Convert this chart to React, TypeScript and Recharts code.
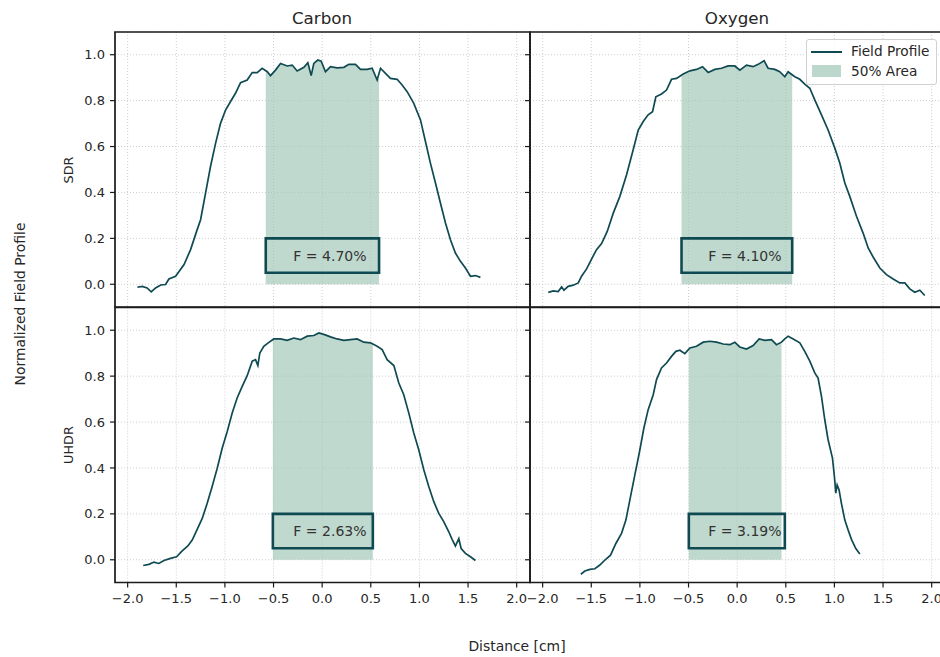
import React from 'react';
import {
  ComposedChart,
  Line,
  Area,
  XAxis,
  YAxis,
  CartesianGrid,
  ReferenceArea,
  ReferenceDot,
} from 'recharts';

// ---------- axes ----------
const xTicks = [-2, -1.5, -1, -0.5, 0, 0.5, 1, 1.5, 2];
const yTicks = [0, 0.2, 0.4, 0.6, 0.8, 1.0];
const xDomain: [number, number] = [-2.13, 2.137];
const yDomain: [number, number] = [-0.099, 1.099];

const columnTitles = ['Carbon', 'Oxygen'];
const rowTitles = ['SDR', 'UHDR'];
const fLabels = ['F = 4.70%', 'F = 4.10%', 'F = 2.63%', 'F = 3.19%'];
const boxRange = [0.05, 0.2];
const fTextPos = [0.08, 0.125];

// ---------- Carbon / SDR ----------
const carbonSdrX = [
  -1.9, -1.85, -1.8, -1.757, -1.713, -1.66, -1.61, -1.576, -1.507, -1.42,
  -1.353, -1.285, -1.25, -1.199, -1.148, -1.096, -1.045, -0.993, -0.942, -0.891,
  -0.839, -0.771, -0.719, -0.668, -0.617, -0.565, -0.531, -0.48, -0.428, -0.36,
  -0.308, -0.257, -0.188, -0.147, -0.113, -0.086, -0.045, -0.01, 0.034, 0.086,
  0.154, 0.223, 0.274, 0.343, 0.394, 0.462, 0.514, 0.565, 0.6, 0.651,
  0.702, 0.771, 0.822, 0.874, 0.942, 1.011, 1.062, 1.113, 1.165, 1.216,
  1.268, 1.319, 1.37, 1.422, 1.473, 1.525, 1.576, 1.627,
];
const carbonSdrY = [
  -0.013, -0.009, -0.016, -0.033, -0.016, -0.003, -0.001, 0.023, 0.035, 0.086,
  0.151, 0.238, 0.281, 0.397, 0.513, 0.614, 0.701, 0.759, 0.796, 0.832,
  0.878, 0.89, 0.922, 0.922, 0.941, 0.926, 0.909, 0.933, 0.962, 0.951,
  0.955, 0.929, 0.945, 0.965, 0.909, 0.962, 0.977, 0.972, 0.926, 0.948,
  0.943, 0.945, 0.958, 0.958, 0.936, 0.936, 0.941, 0.89, 0.941, 0.919,
  0.897, 0.893, 0.868, 0.839, 0.788, 0.716, 0.622, 0.528, 0.441, 0.354,
  0.267, 0.194, 0.136, 0.1, 0.071, 0.035, 0.038, 0.03,
];
const carbonSdrBand = [-0.58, 0.585];
const carbonSdrEdge = [0.92, 0.9];

// ---------- Oxygen / SDR ----------
const oxygenSdrX = [
  -1.942, -1.891, -1.84, -1.805, -1.781, -1.737, -1.685, -1.634, -1.6, -1.548,
  -1.497, -1.446, -1.394, -1.336, -1.274, -1.206, -1.137, -1.069, -1.017, -0.966,
  -0.915, -0.87, -0.836, -0.778, -0.726, -0.675, -0.623, -0.555, -0.486, -0.418,
  -0.356, -0.298, -0.23, -0.161, -0.093, -0.024, 0.028, 0.096, 0.164, 0.216,
  0.277, 0.318, 0.387, 0.438, 0.49, 0.524, 0.593, 0.644, 0.695, 0.747,
  0.798, 0.867, 0.935, 1.004, 1.055, 1.107, 1.158, 1.227, 1.295, 1.347,
  1.398, 1.467, 1.535, 1.604, 1.672, 1.724, 1.775, 1.826, 1.878, 1.929,
];
const oxygenSdrY = [
  -0.035, -0.029, -0.032, -0.012, -0.026, -0.009, -0.004, 0.006, 0.035, 0.067,
  0.11, 0.151, 0.177, 0.23, 0.31, 0.383, 0.477, 0.586, 0.672, 0.709,
  0.738, 0.752, 0.817, 0.829, 0.846, 0.893, 0.897, 0.916, 0.93, 0.936,
  0.948, 0.923, 0.936, 0.941, 0.951, 0.951, 0.933, 0.955, 0.948, 0.958,
  0.974, 0.941, 0.936, 0.926, 0.904, 0.926, 0.904, 0.893, 0.872, 0.854,
  0.803, 0.738, 0.672, 0.593, 0.528, 0.441, 0.383, 0.296, 0.223, 0.158,
  0.119, 0.071, 0.042, 0.023, 0.006, 0.006, -0.02, -0.035, -0.026, -0.049,
];
const oxygenSdrBand = [-0.572, 0.566];
const oxygenSdrEdge = [0.913, 0.91];

// ---------- Carbon / UHDR ----------
const carbonUhdrX = [
  -1.84, -1.781, -1.73, -1.679, -1.627, -1.559, -1.497, -1.439, -1.381, -1.336,
  -1.285, -1.233, -1.182, -1.131, -1.079, -1.028, -0.976, -0.925, -0.874, -0.822,
  -0.771, -0.719, -0.685, -0.661, -0.641, -0.6, -0.555, -0.497, -0.428, -0.36,
  -0.291, -0.223, -0.154, -0.086, -0.034, 0.024, 0.086, 0.154, 0.223, 0.291,
  0.36, 0.428, 0.497, 0.565, 0.617, 0.668, 0.737, 0.788, 0.839, 0.891,
  0.942, 0.993, 1.045, 1.096, 1.148, 1.199, 1.25, 1.302, 1.336, 1.37,
  1.405, 1.429, 1.473, 1.525, 1.576,
];
const carbonUhdrY = [
  -0.025, -0.02, -0.01, -0.016, -0.003, 0.006, 0.013, 0.039, 0.06, 0.086,
  0.132, 0.18, 0.246, 0.319, 0.399, 0.486, 0.559, 0.639, 0.705, 0.755,
  0.802, 0.865, 0.872, 0.846, 0.901, 0.93, 0.945, 0.962, 0.962, 0.956,
  0.966, 0.959, 0.974, 0.977, 0.988, 0.981, 0.971, 0.962, 0.956, 0.959,
  0.962, 0.948, 0.945, 0.93, 0.916, 0.872, 0.846, 0.77, 0.719, 0.639,
  0.552, 0.479, 0.392, 0.319, 0.253, 0.202, 0.166, 0.122, 0.089, 0.06,
  0.092, 0.049, 0.028, 0.013, -0.003,
];
const carbonUhdrBand = [-0.507, 0.521];
const carbonUhdrEdge = [0.96, 0.94];

// ---------- Oxygen / UHDR ----------
const oxygenUhdrX = [
  -1.607, -1.566, -1.514, -1.463, -1.412, -1.36, -1.302, -1.247, -1.189, -1.144,
  -1.103, -1.052, -1.007, -0.959, -0.915, -0.863, -0.829, -0.778, -0.726, -0.675,
  -0.63, -0.589, -0.538, -0.486, -0.418, -0.349, -0.281, -0.212, -0.144, -0.075,
  -0.024, 0.027, 0.096, 0.164, 0.226, 0.284, 0.353, 0.404, 0.456, 0.49,
  0.524, 0.576, 0.644, 0.695, 0.747, 0.798, 0.832, 0.867, 0.901, 0.935,
  0.98, 1.0, 1.014, 1.028, 1.048, 1.072, 1.107, 1.141, 1.175, 1.22,
  1.261,
];
const oxygenUhdrY = [
  -0.063, -0.049, -0.042, -0.039, -0.023, -0.001, 0.02, 0.071, 0.115, 0.173,
  0.261, 0.37, 0.464, 0.574, 0.654, 0.719, 0.785, 0.836, 0.857, 0.886,
  0.908, 0.913, 0.898, 0.923, 0.93, 0.948, 0.952, 0.948, 0.94, 0.937,
  0.948, 0.927, 0.918, 0.933, 0.962, 0.956, 0.959, 0.937, 0.948, 0.962,
  0.974, 0.962, 0.945, 0.908, 0.865, 0.814, 0.792, 0.712, 0.61, 0.523,
  0.443, 0.362, 0.29, 0.326, 0.304, 0.246, 0.173, 0.13, 0.089, 0.049,
  0.025,
];
const oxygenUhdrBand = [-0.497, 0.49];
const oxygenUhdrEdge = [0.92, 0.962];

// ---------- styling ----------
const LINE = '#0f4a52';
const FILL = '#9cc4b4';
const INK = '#262626';
const SPINE = '#1a1a1a';
const FONT = "'DejaVu Sans', sans-serif";
const W = 960;
const H = 657;

type Row = { x: number; y: number | null; f: number | null };

function buildRows(xs: number[], ys: number[], band: number[], edge: number[]): Row[] {
  const rows: Row[] = xs.map((x, i) => ({
    x,
    y: ys[i],
    f: x > band[0] && x < band[1] ? ys[i] : null,
  }));
  rows.push({ x: band[0], y: null, f: edge[0] });
  rows.push({ x: band[1], y: null, f: edge[1] });
  rows.sort((a, b) => a.x - b.x);
  return rows;
}

const fmt = (v: number) => (v < 0 ? '\u2212' : '') + Math.abs(v).toFixed(1);

type PanelProps = {
  rows: Row[];
  band: number[];
  label: string;
  plotLeft: number;
  plotRight: number;
  plotTop: number;
  plotBottom: number;
  yLabels: boolean;
  xLabels: boolean;
};

function Panel(p: PanelProps) {
  const yW = p.yLabels ? 40 : 10;
  const xH = p.xLabels ? 30 : 0;
  const margin = {
    top: p.plotTop,
    left: p.plotLeft - yW,
    right: W - p.plotRight,
    bottom: H - p.plotBottom - xH,
  };
  return (
    <div style={{ position: 'absolute', left: 0, top: 0 }}>
      <ComposedChart width={W} height={H} data={p.rows} margin={margin}>
        <CartesianGrid stroke="#c8c8c8" strokeDasharray="1 2" strokeWidth={0.9} />
        <XAxis
          dataKey="x"
          type="number"
          domain={xDomain}
          ticks={xTicks}
          allowDataOverflow
          interval={0}
          hide={!p.xLabels}
          height={xH}
          axisLine={false}
          tickLine={{ stroke: SPINE, strokeWidth: 1.2 }}
          tickSize={5}
          tickMargin={6}
          tickFormatter={fmt}
          tick={{ fill: INK, fontSize: 13, fontFamily: FONT }}
        />
        <YAxis
          type="number"
          domain={yDomain}
          ticks={yTicks}
          allowDataOverflow
          interval={0}
          width={yW}
          axisLine={false}
          tickLine={{ stroke: SPINE, strokeWidth: 1.2 }}
          tickSize={5}
          tickMargin={5}
          tickFormatter={(v: number) => (p.yLabels ? v.toFixed(1) : '')}
          tick={{ fill: INK, fontSize: 13, fontFamily: FONT }}
        />
        <Area
          dataKey="f"
          type="linear"
          stroke="none"
          fill={FILL}
          fillOpacity={0.65}
          baseValue={0}
          connectNulls={false}
          dot={false}
          activeDot={false}
          isAnimationActive={false}
        />
        <Line
          dataKey="y"
          type="linear"
          stroke={LINE}
          strokeWidth={1.7}
          dot={false}
          activeDot={false}
          connectNulls
          isAnimationActive={false}
        />
        <ReferenceArea
          x1={p.band[0]}
          x2={p.band[1]}
          y1={boxRange[0]}
          y2={boxRange[1]}
          fill="none"
          stroke={LINE}
          strokeWidth={2.6}
          ifOverflow="visible"
        />
        <ReferenceDot
          x={fTextPos[0]}
          y={fTextPos[1]}
          r={0}
          fill="none"
          stroke="none"
          ifOverflow="visible"
          label={{
            value: p.label,
            position: 'center',
            fill: '#333333',
            fontSize: 14,
            fontFamily: FONT,
          }}
        />
        <ReferenceArea
          x1={xDomain[0]}
          x2={xDomain[1]}
          y1={yDomain[0]}
          y2={yDomain[1]}
          fill="none"
          stroke={SPINE}
          strokeWidth={1.7}
          ifOverflow="visible"
        />
      </ComposedChart>
    </div>
  );
}

const rowsCS = buildRows(carbonSdrX, carbonSdrY, carbonSdrBand, carbonSdrEdge);
const rowsOS = buildRows(oxygenSdrX, oxygenSdrY, oxygenSdrBand, oxygenSdrEdge);
const rowsCU = buildRows(carbonUhdrX, carbonUhdrY, carbonUhdrBand, carbonUhdrEdge);
const rowsOU = buildRows(oxygenUhdrX, oxygenUhdrY, oxygenUhdrBand, oxygenUhdrEdge);

export default function App() {
  return (
    <div
      style={{
        position: 'absolute',
        left: 0,
        top: 0,
        width: 940,
        height: 657,
        overflow: 'hidden',
        background: '#ffffff',
        fontFamily: FONT,
      }}
    >
      <Panel rows={rowsCS} band={carbonSdrBand} label={fLabels[0]}
        plotLeft={115} plotRight={530} plotTop={32} plotBottom={307} yLabels xLabels={false} />
      <Panel rows={rowsOS} band={oxygenSdrBand} label={fLabels[1]}
        plotLeft={530} plotRight={945} plotTop={32} plotBottom={307} yLabels={false} xLabels={false} />
      <Panel rows={rowsCU} band={carbonUhdrBand} label={fLabels[2]}
        plotLeft={115} plotRight={530} plotTop={307.5} plotBottom={582.5} yLabels xLabels />
      <Panel rows={rowsOU} band={oxygenUhdrBand} label={fLabels[3]}
        plotLeft={530} plotRight={945} plotTop={307.5} plotBottom={582.5} yLabels={false} xLabels />

      <svg
        width={940}
        height={657}
        style={{ position: 'absolute', left: 0, top: 0, pointerEvents: 'none' }}
      >
        <text x={322} y={18} textAnchor="middle" dominantBaseline="central"
          fontSize={16.7} fill={INK} fontFamily={FONT}>{columnTitles[0]}</text>
        <text x={737} y={18} textAnchor="middle" dominantBaseline="central"
          fontSize={16.7} fill={INK} fontFamily={FONT}>{columnTitles[1]}</text>
        <text x={68} y={170} textAnchor="middle" dominantBaseline="central"
          fontSize={12.8} fill={INK} fontFamily={FONT} transform="rotate(-90 68 170)">{rowTitles[0]}</text>
        <text x={68} y={445} textAnchor="middle" dominantBaseline="central"
          fontSize={12.8} fill={INK} fontFamily={FONT} transform="rotate(-90 68 445)">{rowTitles[1]}</text>
        <text x={20} y={304} textAnchor="middle" dominantBaseline="central"
          fontSize={13.9} fill={INK} fontFamily={FONT} transform="rotate(-90 20 304)">Normalized Field Profile</text>
        <text x={517} y={646} textAnchor="middle" dominantBaseline="central"
          fontSize={13.9} fill={INK} fontFamily={FONT}>Distance [cm]</text>
      </svg>

      <div
        style={{
          position: 'absolute',
          left: 806,
          top: 39,
          width: 129,
          height: 44,
          border: '1px solid #d0d0d0',
          borderRadius: 3,
          background: 'rgba(255,255,255,0.85)',
          fontFamily: FONT,
          fontSize: 13.7,
          color: INK,
        }}
      >
        <div style={{ position: 'absolute', left: 4, top: 10.5, width: 31, height: 2, background: LINE }} />
        <div style={{ position: 'absolute', left: 44, top: 2, lineHeight: '19px', whiteSpace: 'nowrap' }}>Field Profile</div>
        <div style={{ position: 'absolute', left: 5, top: 25, width: 29, height: 12, background: '#bcd8cc' }} />
        <div style={{ position: 'absolute', left: 44, top: 21.5, lineHeight: '19px', whiteSpace: 'nowrap' }}>50% Area</div>
      </div>
    </div>
  );
}
